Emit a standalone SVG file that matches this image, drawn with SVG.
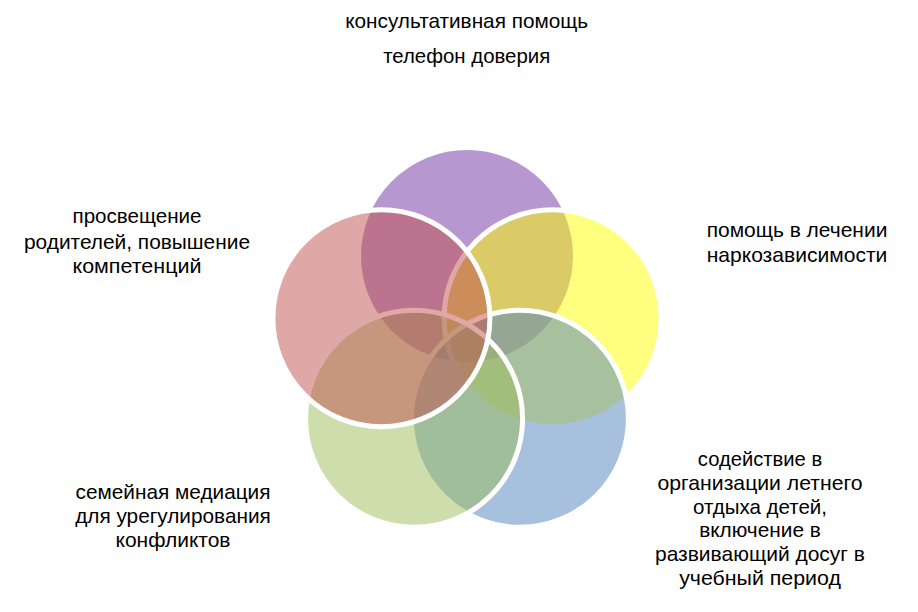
<svg xmlns="http://www.w3.org/2000/svg" width="918" height="612" viewBox="0 0 918 612">
<style>
  .c { stroke: #ffffff; stroke-width: 5; fill-opacity: 0.5; }
  .t { font-family: "Liberation Sans", Arial, sans-serif; font-size: 21px; fill: #000000; text-anchor: middle; }
</style>
<rect width="918" height="612" fill="#ffffff"/>
<g id="circles">
  <g id="node-consult"><circle class="c" cx="467" cy="256" r="108.5" fill="#7030A0"/></g>
  <g id="node-narco"><circle class="c" cx="552.6" cy="318.2" r="108.5" fill="#FFFF00"/></g>
  <g id="node-leisure"><circle class="c" cx="519.9" cy="418.8" r="108.5" fill="#4F81BD"/></g>
  <g id="node-mediation"><circle class="c" cx="414.1" cy="418.8" r="108.5" fill="#9BBB59"/></g>
  <g id="node-parents"><circle class="c" cx="381.4" cy="318.2" r="108.5" fill="#C0504D"/></g>
</g>
<g id="labels">
  <g id="label-consult">
    <text class="t" x="466.7" y="28" textLength="243" lengthAdjust="spacingAndGlyphs">консультативная помощь</text>
    <text class="t" x="466.7" y="63" textLength="167" lengthAdjust="spacingAndGlyphs">телефон доверия</text>
  </g>
  <g id="label-narco">
    <text class="t" x="797" y="236.7" textLength="180.7" lengthAdjust="spacingAndGlyphs">помощь в лечении</text>
    <text class="t" x="797" y="261.7" textLength="180.7" lengthAdjust="spacingAndGlyphs">наркозависимости</text>
  </g>
  <g id="label-leisure">
    <text class="t" x="760" y="466" textLength="124.4" lengthAdjust="spacingAndGlyphs">содействие в</text>
    <text class="t" x="760" y="490" textLength="205" lengthAdjust="spacingAndGlyphs">организации летнего</text>
    <text class="t" x="760" y="513.5" textLength="134" lengthAdjust="spacingAndGlyphs">отдыха детей,</text>
    <text class="t" x="760" y="537.3" textLength="121.6" lengthAdjust="spacingAndGlyphs">включение в</text>
    <text class="t" x="760" y="561" textLength="210" lengthAdjust="spacingAndGlyphs">развивающий досуг в</text>
    <text class="t" x="760" y="584.5" textLength="161.7" lengthAdjust="spacingAndGlyphs">учебный период</text>
  </g>
  <g id="label-mediation">
    <text class="t" x="173" y="499.3" textLength="195" lengthAdjust="spacingAndGlyphs">семейная медиация</text>
    <text class="t" x="173" y="523.3" textLength="195.7" lengthAdjust="spacingAndGlyphs">для урегулирования</text>
    <text class="t" x="173" y="547.3" textLength="115" lengthAdjust="spacingAndGlyphs">конфликтов</text>
  </g>
  <g id="label-parents">
    <text class="t" x="137" y="223.3" textLength="129" lengthAdjust="spacingAndGlyphs">просвещение</text>
    <text class="t" x="137" y="248.5" textLength="226" lengthAdjust="spacingAndGlyphs">родителей, повышение</text>
    <text class="t" x="137" y="273.3" textLength="129" lengthAdjust="spacingAndGlyphs">компетенций</text>
  </g>
</g>
</svg>
